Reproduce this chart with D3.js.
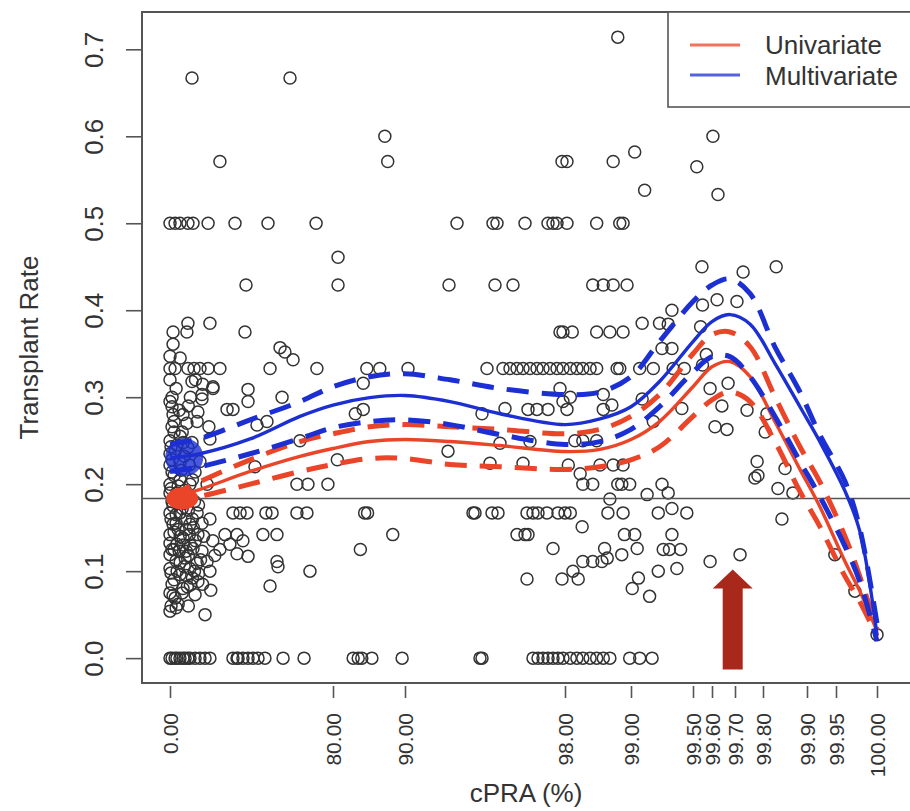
<!DOCTYPE html>
<html>
<head>
<meta charset="utf-8">
<script src="https://cdn.jsdelivr.net/npm/d3@7"></script>
<style>
  body { margin: 0; background: #fff; }
  text { font-family: "Liberation Sans", Arial, Helvetica, sans-serif; fill: #333; }
</style>
</head>
<body>
<div id="chart"></div>
<script>
// ---- data ----
const xTicks = [0, 80, 90, 98, 99, 99.5, 99.6, 99.7, 99.8, 99.9, 99.95, 100];
const yTicks = [0, 0.1, 0.2, 0.3, 0.4, 0.5, 0.6, 0.7];
const seriesNames = ["Univariate", "Multivariate"];
const overallRate = 0.1836;
const arrowCpra = 99.69;

// [cPRA %, transplant rate]
const lowCpra = [
  [0,0],[1,0],[2.5,0],[3.4,0],[4.9,0],[6.4,0],[7.4,0],[8.8,0],[9.8,0],[12.3,0],[14.7,0],[17.2,0],[19.6,0],
  [30.9,0],[32.9,0],[33.4,0],[35.8,0],[38.3,0],[40.7,0],[43.2,0],[46.6,0],[55.5,0],[65.8,0],
  [0,0.5],[2.5,0.5],[4.9,0.5],[8.8,0.5],[11.3,0.5],[18.7,0.5],[31.9,0.5],[48.1,0.5],[71.7,0.5],
  [10.8,0.667],[58.9,0.667],[24.5,0.571],[37.3,0.429],
  [19.6,0.385],[8.8,0.385],[1.5,0.375],[8.3,0.375],[36.8,0.375],[1.5,0.361],[0,0.347],[54,0.357],[56.4,0.352],[60.4,0.343],[5,0.345],
  [0,0.333],[2.5,0.333],[8.8,0.333],[11.8,0.333],[14.7,0.333],[18.7,0.333],[24.5,0.333],[49.1,0.333],[72.1,0.333],
  [10.8,0.318],[21.1,0.31],[38.3,0.309],[38.3,0.295],[1,0.3],[15.7,0.298],[1,0.289],[28,0.286],[30.9,0.286],[55,0.3],
  [6.4,0.28],[13.7,0.283],[1,0.266],[13.3,0.272],[42.7,0.268],[47.6,0.272],[63.8,0.25],[19.6,0.252],[41.7,0.22],
  [18.2,0.2],[62.3,0.2],[67.7,0.2],[77.5,0.2],
  [0,0.25],[2.5,0.238],[4.9,0.225],[8.8,0.242],[12.3,0.214],[1,0.214],[14.7,0.226],[19.1,0.266],[1.5,0.28],[8.3,0.27],
  [0,0.295],[15.7,0.303],[21.1,0.312],[0,0.19],[3.4,0.19],[7.4,0.193],[9.8,0.2],[0,0.2],[5,0.205],[2,0.21],[0,0.235],
  [6,0.26],[3,0.31],[0,0.32],[10,0.3],[5,0.255],[0,0.222],[3.4,0.245],[7,0.232],[10.8,0.248],[2,0.26],
  [0,0.054],[17.2,0.05],[2.5,0.069],[6.4,0.08],[12.3,0.073],[13.7,0.088],[0,0.103],[4.9,0.096],[9.8,0.103],[19.6,0.1],
  [0,0.119],[7.4,0.115],[13.3,0.109],[18.2,0.111],[3.4,0.131],[11.3,0.126],[15.7,0.123],[0,0.142],[6.4,0.138],[13.7,0.142],
  [1.5,0.154],[9.8,0.154],[15.7,0.155],[0,0.167],[4.9,0.167],[13.3,0.167],[19.6,0.16],[1.5,0.175],[6,0.172],[2,0.09],
  [8,0.095],[1,0.085],[5,0.11],[10,0.13],[3,0.155],[8,0.148],[2,0.125],[11,0.16],[21,0.135],[4,0.062],[9,0.06],
  [14,0.097],[16,0.085],[20,0.078],[22,0.118],[7,0.178],[12,0.18],[0,0.075],[3,0.112],[10,0.084],[5,0.14],[0,0.132],
  [1,0.18],[16.5,0.14],[8,0.123],
  [0.5,0.06],[3,0.058],[1.5,0.072],[6,0.075],[8.5,0.082],[11,0.092],[0.5,0.098],[3.5,0.1],[7,0.105],[12,0.1],
  [15,0.113],[1,0.125],[4.5,0.123],[6.5,0.13],[9,0.118],[12.5,0.135],[2,0.145],[4,0.148],[9.5,0.142],[11.5,0.15],
  [0.5,0.16],[3,0.165],[7.5,0.16],[9,0.17],[14,0.176],[2.5,0.182],[5.5,0.186],[0.5,0.195],[4,0.198],[11,0.205],
  [1,0.228],[5.5,0.216],[9.5,0.222],[0.5,0.243],[6.5,0.248],[2,0.272],[4.5,0.285],[9,0.29],[16,0.315],[12.5,0.32],
  [30.9,0.167],[34.4,0.167],[37.8,0.167],[47.1,0.167],[50.1,0.167],[62.3,0.167],[67.2,0.167],
  [27,0.142],[32.9,0.142],[29.4,0.131],[35.8,0.135],[32.9,0.12],[38.3,0.117],[45.6,0.142],[52.5,0.142],[52.5,0.111],
  [53,0.105],[49.1,0.083],[68.7,0.1],[24.5,0.125]
];

const midCpra = [
  [82.8,0],[83.5,0],[84,0],[85.4,0],[89.6,0],[93.75,0],[93.85,0],[96.4,0],[96.65,0],[96.9,0],[97.15,0],[97.4,0],
  [97.65,0],[97.9,0],[98.08,0],[98.18,0],[98.27,0],[98.38,0],[98.48,0],[98.58,0],[98.68,0],[98.98,0],
  [92.6,0.5],[94.4,0.5],[94.6,0.5],[96,0.5],[97.15,0.5],[97.4,0.5],[97.6,0.5],[98.03,0.5],[98.48,0.5],[98.83,0.5],[98.88,0.5],
  [87.2,0.6],[87.6,0.571],[97.85,0.571],[98.03,0.571],[98.73,0.571],[98.8,0.714],
  [80.7,0.461],[80.7,0.429],[92.2,0.429],[94.5,0.429],[95.4,0.429],[98.42,0.429],[98.58,0.429],[98.73,0.429],[98.94,0.429],
  [97.75,0.375],[97.9,0.375],[98.11,0.375],[98.48,0.375],[98.68,0.375],[98.88,0.375],
  [84.7,0.333],[86.5,0.333],[90.15,0.333],[94.1,0.333],[94.9,0.333],[95.25,0.333],[95.6,0.333],[95.9,0.333],
  [96.25,0.333],[96.6,0.333],[96.9,0.333],[97.25,0.333],[97.6,0.333],[97.9,0.333],[98.08,0.333],[98.18,0.333],
  [98.27,0.333],[98.38,0.333],[98.48,0.333],[98.79,0.333],[98.83,0.333],
  [84.2,0.316],[83.1,0.281],[84.2,0.286],[93.85,0.281],[95,0.287],[96.15,0.286],[96.6,0.286],[97.15,0.286],
  [98.03,0.286],[98.58,0.286],[98.71,0.291],[97.75,0.31],[98.08,0.3],[97.9,0.295],[98.58,0.303],
  [80.6,0.228],[92.15,0.238],[94.75,0.247],[96.25,0.249],[94.25,0.224],[95.9,0.224],[98.05,0.222],[98.23,0.212],
  [98.27,0.2],[98.42,0.2],[98.53,0.222],[98.73,0.222],[98.88,0.222],[98.15,0.25],[98.27,0.25],[98.48,0.25],
  [98.8,0.2],[98.86,0.2],[98.98,0.2],[98.68,0.183],
  [84.4,0.167],[84.8,0.167],[93.4,0.167],[93.5,0.167],[94.35,0.167],[94.65,0.167],[96.1,0.167],[96.4,0.167],
  [96.65,0.167],[97.1,0.167],[97.65,0.167],[98,0.167],[98.08,0.167],[98.65,0.167],[98.88,0.167],
  [98.26,0.151],[88.3,0.142],[95.6,0.142],[96,0.142],[96.15,0.142],[98.9,0.142],[83.8,0.125],[97.4,0.126],
  [98.6,0.126],[98.27,0.111],[98.42,0.111],[98.56,0.111],[98.12,0.1],[96.1,0.091],[97.85,0.091],[98.2,0.091],
  [98.86,0.119],[98.64,0.115]
];

const highCpra = [
  [99.07,0],[99.17,0],
  [99.604,0.6],[99.03,0.582],[99.52,0.565],[99.626,0.533],[99.11,0.538],
  [99.547,0.45],[99.83,0.45],[99.729,0.444],
  [99.622,0.412],[99.707,0.41],[99.55,0.406],[99.33,0.4],[99.09,0.385],[99.3,0.384],[99.23,0.385],[99.25,0.356],
  [99.33,0.356],[99.57,0.349],[99.07,0.333],[99.18,0.333],[99.34,0.333],[99.43,0.333],[99.55,0.337],[99.54,0.381],
  [99.67,0.316],[99.59,0.31],[99.643,0.29],[99.743,0.285],[99.613,0.266],[99.665,0.263],[99.809,0.281],[99.09,0.298],
  [99.18,0.272],[99.41,0.287],[99.805,0.26],
  [99.85,0.218],[99.779,0.226],[99.771,0.207],[99.782,0.21],[99.834,0.195],[99.868,0.19],[99.843,0.16],
  [99.948,0.119],[99.973,0.077],[100,0.027],
  [99.59,0.111],[99.718,0.119],[99.13,0.188],[99.3,0.19],[99.25,0.2],[99.33,0.172],[99.45,0.167],[99.22,0.167],
  [99.03,0.142],[99.33,0.142],[99.05,0.126],[99.26,0.125],[99.31,0.125],[99.4,0.125],[99.22,0.1],[99.06,0.092],
  [99.01,0.08],[99.15,0.071],[99.37,0.103]
];

// fitted curves, sampled at these cPRA values
const curveCpra = [0, 14.7, 39.3, 63.8, 80, 85.1, 90, 92.25, 94.75, 98, 98.53, 99, 99.23, 99.5, 99.6, 99.678, 99.754, 99.827, 99.884, 99.922, 99.961, 99.979, 100];
const multiFit   = [0.230, 0.235, 0.252, 0.278, 0.291, 0.2995, 0.302, 0.295, 0.281, 0.2685, 0.275, 0.289, 0.318, 0.364, 0.387, 0.395, 0.384, 0.339, 0.289, 0.249, 0.192, 0.146, 0.027];
const multiUpper = [0.246, 0.2525, 0.274, 0.295, 0.312, 0.3236, 0.327, 0.320, 0.31, 0.303, 0.306, 0.3236, 0.364, 0.41, 0.429, 0.436, 0.419, 0.358, 0.306, 0.257, 0.203, 0.149, 0.04];
const multiLower = [0.2146, 0.22, 0.235, 0.2525, 0.265, 0.272, 0.274, 0.2685, 0.257, 0.2456, 0.249, 0.263, 0.289, 0.329, 0.3466, 0.3466, 0.3236, 0.278, 0.226, 0.186, 0.1285, 0.088, 0.0195];
const uniFit     = [0.1836, 0.194, 0.2146, 0.232, 0.241, 0.249, 0.2513, 0.249, 0.2444, 0.2375, 0.24, 0.2513, 0.272, 0.312, 0.335, 0.341, 0.3236, 0.272, 0.217, 0.1744, 0.111, 0.077, 0.031];
const uniUpper   = [0.187, 0.203, 0.228, 0.249, 0.258, 0.266, 0.2685, 0.266, 0.263, 0.258, 0.263, 0.278, 0.303, 0.35, 0.372, 0.375, 0.358, 0.3007, 0.243, 0.203, 0.14, 0.094, 0.033];
const uniLower   = [0.18, 0.186, 0.2, 0.2146, 0.2226, 0.2295, 0.2295, 0.2226, 0.22, 0.217, 0.22, 0.228, 0.243, 0.278, 0.297, 0.306, 0.295, 0.249, 0.1916, 0.1515, 0.094, 0.065, 0.025];

// ---- drawing ----
const width = 910, height = 811;
const mLeft = 142, mTop = 12, mBottom = 683, mRight = 914;
const RED = "#ea4528", BLUE = "#1b2fd2", AXIS = "#555";

const svg = d3.select("#chart").append("svg")
  .attr("width", width).attr("height", height);

// cPRA axis is stretched towards 100 %, so the scale is piecewise
const x = d3.scaleLinear()
  .domain(xTicks)
  .range([170, 333, 405, 565, 631, 693, 712, 735, 763, 807, 836, 877]);
const y = d3.scaleLinear().domain([-0.0286, 0.7429]).range([mBottom, mTop]);

const plot = svg.append("g");

// points
const pts = lowCpra.concat(midCpra, highCpra);
plot.selectAll("circle.pt")
  .data(pts)
  .enter().append("circle")
  .attr("class", "pt")
  .attr("cx", d => x(d[0]))
  .attr("cy", d => y(d[1]))
  .attr("r", 6)
  .attr("fill", "none")
  .attr("stroke", "#333")
  .attr("stroke-width", 1.5);

// overall rate
plot.append("line")
  .attr("x1", mLeft).attr("x2", mRight)
  .attr("y1", y(overallRate)).attr("y2", y(overallRate))
  .attr("stroke", AXIS).attr("stroke-width", 1.6);

// curves
const line = d3.line()
  .x(d => x(d[0]))
  .y(d => y(d[1]))
  .curve(d3.curveCatmullRom.alpha(0.5));

const curves = [
  { vals: uniLower, color: RED, dash: true },
  { vals: uniUpper, color: RED, dash: true },
  { vals: uniFit, color: RED, dash: false },
  { vals: multiLower, color: BLUE, dash: true },
  { vals: multiUpper, color: BLUE, dash: true },
  { vals: multiFit, color: BLUE, dash: false }
];

// thick blob where the blue bands pile up at cPRA 0
plot.append("ellipse")
  .attr("cx", x(7)).attr("cy", y(0.231))
  .attr("rx", 19).attr("ry", 19)
  .attr("fill", BLUE).attr("opacity", 0.8);

curves.forEach(c => {
  plot.append("path")
    .datum(curveCpra.map((v, i) => [v, c.vals[i]]))
    .attr("d", line)
    .attr("fill", "none")
    .attr("stroke", c.color)
    .attr("stroke-width", c.dash ? 5 : 3.4)
    .attr("stroke-dasharray", c.dash ? "22,13" : null)
    .attr("stroke-linecap", "butt");
});

plot.append("ellipse")
  .attr("cx", x(6)).attr("cy", y(overallRate))
  .attr("rx", 16).attr("ry", 11)
  .attr("fill", RED);

// arrow
const ax = x(arrowCpra);
const tipY = y(0.102), headY = y(0.08), baseY = y(-0.013);
svg.append("path")
  .attr("d", `M${ax},${tipY} L${ax + 20},${headY} L${ax + 10},${headY} L${ax + 10},${baseY} L${ax - 10},${baseY} L${ax - 10},${headY} L${ax - 20},${headY} Z`)
  .attr("fill", "#a8291c");

// box
svg.append("rect")
  .attr("x", mLeft).attr("y", mTop)
  .attr("width", mRight - mLeft).attr("height", mBottom - mTop)
  .attr("fill", "none").attr("stroke", AXIS).attr("stroke-width", 2);

// y axis
const yAxis = svg.append("g")
  .attr("transform", `translate(${mLeft},0)`)
  .call(d3.axisLeft(y).tickValues(yTicks).tickFormat(d3.format(".1f")).tickSize(16));
yAxis.select(".domain").remove();
yAxis.selectAll(".tick line").attr("stroke", AXIS).attr("stroke-width", 1.6);
yAxis.selectAll(".tick text")
  .attr("transform", "rotate(-90)")
  .attr("x", 0).attr("y", -39).attr("dy", 0)
  .attr("text-anchor", "middle")
  .style("font-size", "26px").attr("fill", "#444");

// x axis
const xAxis = svg.append("g")
  .attr("transform", `translate(0,${mBottom + 3})`)
  .call(d3.axisBottom(x).tickValues(xTicks).tickFormat(d3.format(".2f")).tickSize(12));
xAxis.select(".domain").remove();
xAxis.selectAll(".tick line").attr("stroke", AXIS).attr("stroke-width", 1.6);
xAxis.selectAll(".tick text")
  .attr("transform", "rotate(-90)")
  .attr("x", -27).attr("y", 0).attr("dy", "0.36em")
  .attr("text-anchor", "end")
  .style("font-size", "21px").attr("fill", "#444");

// titles
svg.append("text")
  .attr("x", (mLeft + mRight) / 2 - 2).attr("y", 802)
  .attr("text-anchor", "middle")
  .style("font-size", "26px")
  .text("cPRA (%)");
svg.append("text")
  .attr("transform", `translate(38,${(mTop + mBottom) / 2}) rotate(-90)`)
  .attr("text-anchor", "middle")
  .style("font-size", "26px")
  .text("Transplant Rate");

// legend
const lg = svg.append("g").attr("transform", `translate(668,${mTop})`);
lg.append("rect")
  .attr("width", 260).attr("height", 95)
  .attr("fill", "#fff").attr("stroke", AXIS).attr("stroke-width", 1.6);
[RED, BLUE].forEach((col, i) => {
  lg.append("line")
    .attr("x1", 22).attr("x2", 72)
    .attr("y1", 33 + i * 30).attr("y2", 33 + i * 30)
    .attr("stroke", col).attr("stroke-width", 3).attr("opacity", 0.75);
  lg.append("text")
    .attr("x", 97).attr("y", 42 + i * 31)
    .style("font-size", "26px")
    .text(seriesNames[i]);
});
</script>
</body>
</html>
